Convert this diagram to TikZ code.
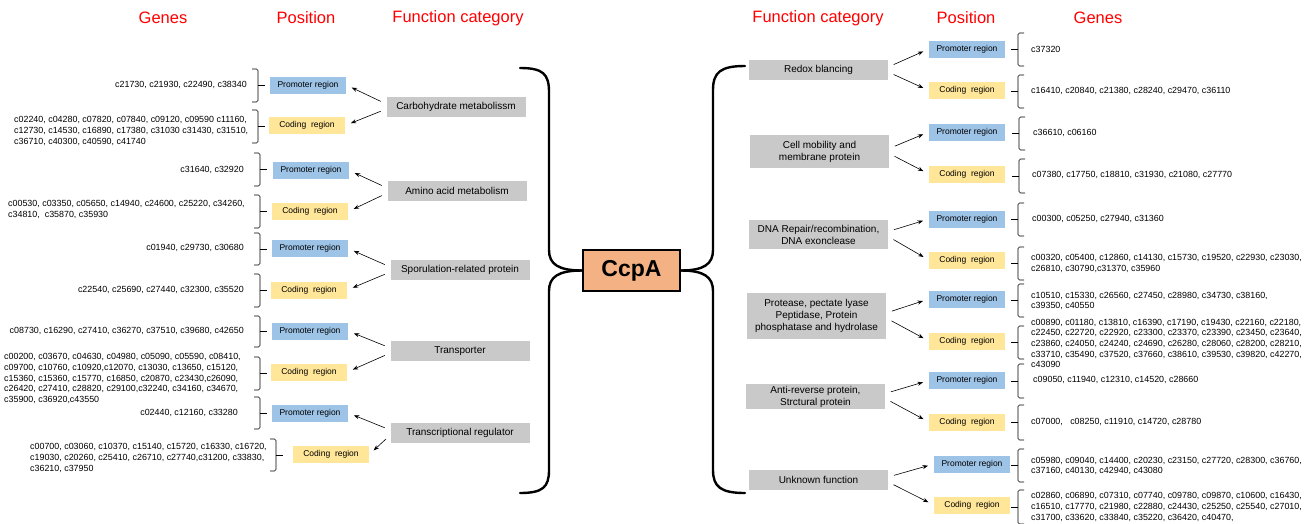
\documentclass[tikz,border=0pt]{standalone}
\usepackage{fontspec}
\setmainfont{Liberation Sans}
\usetikzlibrary{arrows.meta}

\definecolor{catgray}{HTML}{C9C9C9}
\definecolor{promblue}{HTML}{9DC3E6}
\definecolor{codyellow}{HTML}{FFE699}
\definecolor{ccpaorange}{HTML}{F4B183}

% gene bracket, tip to the right (x, top, bottom)
\newcommand{\lbrk}[3]{%
  \draw[brk] (#1,#2) -- ++(6,0) -- ++(0,{#3-#2}) -- ++(-6,0);
  \draw[brk] ({#1+6},{(#2+#3)/2}) -- ++(7,0);}
% gene bracket, tip to the left
\newcommand{\rbrk}[3]{%
  \draw[brk] (#1,#2) -- ++(-6,0) -- ++(0,{#3-#2}) -- ++(6,0);
  \draw[brk] ({#1-6},{(#2+#3)/2}) -- ++(-7,0);}

\begin{document}
\begin{tikzpicture}
  [x=1pt,y=-1pt,
   every node/.style={inner sep=0pt},
   hdr/.style={text=red,font=\fontsize{16.5}{18}\selectfont},
   cat/.style={fill=catgray,minimum width=139pt,minimum height=20pt,align=center,
               font=\fontsize{10}{12}\selectfont},
   prom/.style={fill=promblue,minimum width=76pt,minimum height=17pt,
                font=\fontsize{8.5}{10}\selectfont},
   cod/.style={fill=codyellow,minimum width=76pt,minimum height=17pt,
               font=\fontsize{8.5}{10}\selectfont},
   genes/.style={align=left,font=\fontsize{8.9}{10.6}\selectfont},
   arr/.style={-{Stealth[length=5.5pt,width=4pt]},semithin,shorten <=6pt,shorten >=6pt},
   semithin/.style={line width=0.6pt},
   brk/.style={line width=0.6pt,rounded corners=1.5pt},
   big/.style={line width=2.4pt,line cap=round}]
  \useasboundingbox (0,0) rectangle (1309,523);

  % headers
  \node[hdr] (h1) at (163,18) {Genes};
  \node[hdr] (h2) at (306,18) {Position};
  \node[hdr] (h3) at (458,18) {Function category};
  \node[hdr] (h4) at (818,18) {Function category};
  \node[hdr] (h5) at (966,18) {Position};
  \node[hdr] (h6) at (1098,18) {Genes};

  % centre
  \node[fill=ccpaorange,draw,line width=1.6pt,minimum width=97pt,minimum height=41pt,
        font=\fontsize{23}{26}\bfseries] (ccpa) at (631.5,270.5) {CcpA};
  \draw[big] (520,68) .. controls (543,68) and (549,74) .. (549,92) -- (549,250)
    .. controls (549,264) and (558,270.5) .. (ccpa.west);
  \draw[big] (ccpa.west) .. controls (558,270.5) and (549,277) .. (549,291) -- (549,470)
    .. controls (549,487) and (543,493) .. (520,493);
  \draw[big] (745,66) .. controls (721,66) and (713,72) .. (713,90) -- (713,250)
    .. controls (713,264) and (704,270.5) .. (ccpa.east);
  \draw[big] (ccpa.east) .. controls (704,270.5) and (713,277) .. (713,291) -- (713,470)
    .. controls (713,487) and (721,493) .. (745,493);

  % left: function categories
  \node[cat] (cb) at (456,107) {Carbohydrate metabolissm};
  \node[cat] (aa) at (457,191) {Amino acid metabolism};
  \node[cat] (sp) at (460,270) {Sporulation-related protein};
  \node[cat] (tr) at (460,351) {Transporter};
  \node[cat] (tf) at (460,433) {Transcriptional regulator};

  % left: positions
  \node[prom] (cbp) at (308,85) {Promoter region};
  \node[cod]  (cbc) at (307,125.5) {Coding~ region};
  \node[prom] (aap) at (311,170.5) {Promoter region};
  \node[cod]  (aac) at (310,211.5) {Coding~ region};
  \node[prom] (spp) at (310,248.5) {Promoter region};
  \node[cod]  (spc) at (309,290) {Coding~ region};
  \node[prom] (trp) at (310,331) {Promoter region};
  \node[cod]  (trc) at (309,372) {Coding~ region};
  \node[prom] (tfp) at (310,413) {Promoter region};
  \node[cod]  (tfc) at (331,454.5) {Coding~ region};

  \draw[arr] ([yshift=3pt]cb.west) -- (cbp.east);
  \draw[arr] ([yshift=-2pt]cb.west) -- (cbc.east);
  \draw[arr] ([yshift=3pt]aa.west) -- (aap.east);
  \draw[arr] ([yshift=-2pt]aa.west) -- (aac.east);
  \draw[arr] ([yshift=3pt]sp.west) -- (spp.east);
  \draw[arr] ([yshift=-2pt]sp.west) -- (spc.east);
  \draw[arr] ([yshift=3pt]tr.west) -- (trp.east);
  \draw[arr] ([yshift=-2pt]tr.west) -- (trc.east);
  \draw[arr] ([yshift=3pt]tf.west) -- (tfp.east);
  \draw[arr] ([yshift=-2pt]tf.west) -- (tfc.east);

  % left: genes
  \node[genes,anchor=east] (gcbp) at (247,85) {c21730, c21930, c22490, c38340};
  \node[genes,anchor=west] (gcbc) at (14,131) {c02240, c04280, c07820, c07840, c09120, c09590 c11160,\\
    c12730, c14530, c16890, c17380, c31030 c31430, c31510,\\c36710, c40300, c40590, c41740};
  \node[genes,anchor=east] (gaap) at (244,170) {c31640, c32920};
  \node[genes,anchor=west] (gaac) at (8,209.5) {c00530, c03350, c05650, c14940, c24600, c25220, c34260,\\
    c34810,~ c35870, c35930};
  \node[genes,anchor=east] (gspp) at (244,248) {c01940, c29730, c30680};
  \node[genes,anchor=east] (gspc) at (244,290) {c22540, c25690, c27440, c32300, c35520};
  \node[genes,anchor=east] (gtrp) at (244,331) {c08730, c16290, c27410, c36270, c37510, c39680, c42650};
  \node[genes,anchor=west] (gtrc) at (4,378.5) {c00200, c03670, c04630, c04980, c05090, c05590, c08410,\\
    c09700, c10760, c10920,c12070, c13030, c13650, c15120,\\
    c15360, c15360, c15770, c16850, c20870, c23430,c26090,\\
    c26420, c27410, c28820, c29100,c32240, c34160, c34670,\\c35900, c36920,c43550};
  \node[genes,anchor=east] (gtfp) at (238,413) {c02440, c12160, c33280};
  \node[genes,anchor=west] (gtfc) at (30,458) {c00700, c03060, c10370, c15140, c15720, c16330, c16720,\\
    c19030, c20260, c25410, c26710, c27740,c31200, c33830,\\c36210, c37950};

  \lbrk{252}{69}{102}
  \lbrk{252}{110}{143}
  \lbrk{254}{153}{186}
  \lbrk{254}{195}{228}
  \lbrk{254}{233}{265}
  \lbrk{254}{274}{307}
  \lbrk{254}{316}{347}
  \lbrk{254}{357}{390}
  \lbrk{254}{397}{429}
  \lbrk{270}{439}{471}

  % right: function categories
  \node[cat] (rd) at (818.5,70) {Redox blancing};
  \node[cat,minimum height=33pt] (cm) at (819.5,151.5) {Cell mobility and\\membrane protein};
  \node[cat,minimum height=29pt] (dn) at (818.5,234.5) {DNA Repair/recombination,\\DNA exonclease};
  \node[cat,minimum height=46pt] (pt) at (816.5,316) {Protease, pectate lyase\\Peptidase, Protein\\phosphatase and hydrolase};
  \node[cat,minimum height=25pt] (ar) at (815.5,396.5) {Anti-reverse protein,\\Strctural protein};
  \node[cat] (un) at (818.5,480) {Unknown function};

  % right: positions
  \node[prom] (rdp) at (967,49) {Promoter region};
  \node[cod]  (rdc) at (967,90.5) {Coding~ region};
  \node[prom] (cmp) at (967,132) {Promoter region};
  \node[cod]  (cmc) at (967,174) {Coding~ region};
  \node[prom] (dnp) at (967,219) {Promoter region};
  \node[cod]  (dnc) at (967,260) {Coding~ region};
  \node[prom] (ptp) at (967,299) {Promoter region};
  \node[cod]  (ptc) at (967,341) {Coding~ region};
  \node[prom] (arp) at (967,380.5) {Promoter region};
  \node[cod]  (arc) at (967,422) {Coding~ region};
  \node[prom] (unp) at (972,464) {Promoter region};
  \node[cod]  (unc) at (972,505) {Coding~ region};

  \draw[arr] ([yshift=3pt]rd.east) -- (rdp.west);
  \draw[arr] ([yshift=-2pt]rd.east) -- (rdc.west);
  \draw[arr] ([yshift=3pt]cm.east) -- (cmp.west);
  \draw[arr] ([yshift=-2pt]cm.east) -- (cmc.west);
  \draw[arr] ([yshift=3pt]dn.east) -- (dnp.west);
  \draw[arr] ([yshift=-2pt]dn.east) -- (dnc.west);
  \draw[arr] ([yshift=3pt]pt.east) -- (ptp.west);
  \draw[arr] ([yshift=-2pt]pt.east) -- (ptc.west);
  \draw[arr] ([yshift=3pt]ar.east) -- (arp.west);
  \draw[arr] ([yshift=-2pt]ar.east) -- (arc.west);
  \draw[arr] ([yshift=3pt]un.east) -- (unp.west);
  \draw[arr] ([yshift=-2pt]un.east) -- (unc.west);

  % right: genes
  \node[genes,anchor=west] (grdp) at (1031,49) {c37320};
  \node[genes,anchor=west] (grdc) at (1031,91) {c16410, c20840, c21380, c28240, c29470, c36110};
  \node[genes,anchor=west] (gcmp) at (1033,133) {c36610, c06160};
  \node[genes,anchor=west] (gcmc) at (1032,175) {c07380, c17750, c18810, c31930, c21080, c27770};
  \node[genes,anchor=west] (gdnp) at (1032,219) {c00300, c05250, c27940, c31360};
  \node[genes,anchor=west] (gdnc) at (1031,263.5) {c00320, c05400, c12860, c14130, c15730, c19520, c22930, c23030,\\
    c26810, c30790,c31370, c35960};
  \node[genes,anchor=west] (gptp) at (1031,301) {c10510, c15330, c26560, c27450, c28980, c34730, c38160,\\c39350, c40550};
  \node[genes,anchor=west] (gptc) at (1031,343.5) {c00890, c01180, c13810, c16390, c17190, c19430, c22160, c22180,\\
    c22450, c22720, c22920, c23300, c23370, c23390, c23450, c23640,\\
    c23860, c24050, c24240, c24690, c26280, c28060, c28200, c28210,\\
    c33710, c35490, c37520, c37660, c38610, c39530, c39820, c42270,\\c43090};
  \node[genes,anchor=west] (garp) at (1033,380) {c09050, c11940, c12310, c14520, c28660};
  \node[genes,anchor=west] (garc) at (1031,421.5) {c07000,~~ c08250, c11910, c14720, c28780};
  \node[genes,anchor=west] (gunp) at (1031,466) {c05980, c09040, c14400, c20230, c23150, c27720, c28300, c36760,\\
    c37160, c40130, c42940, c43080};
  \node[genes,anchor=west] (gunc) at (1031,507) {c02860, c06890, c07310, c07740, c09780, c09870, c10600, c16430,\\
    c16510, c17770, c21980, c22880, c24430, c25250, c25540, c27010,\\
    c31700, c33620, c33840, c35220, c36420, c40470,};

  \rbrk{1024}{33}{66}
  \rbrk{1024}{75}{108}
  \rbrk{1025}{117}{150}
  \rbrk{1025}{159}{193}
  \rbrk{1024}{203}{236}
  \rbrk{1024}{247}{280}
  \rbrk{1024}{284}{317}
  \rbrk{1024}{326}{359}
  \rbrk{1024}{364}{398}
  \rbrk{1024}{405}{440}
  \rbrk{1024}{449}{482}
  \rbrk{1024}{490}{524}
\end{tikzpicture}
\end{document}
